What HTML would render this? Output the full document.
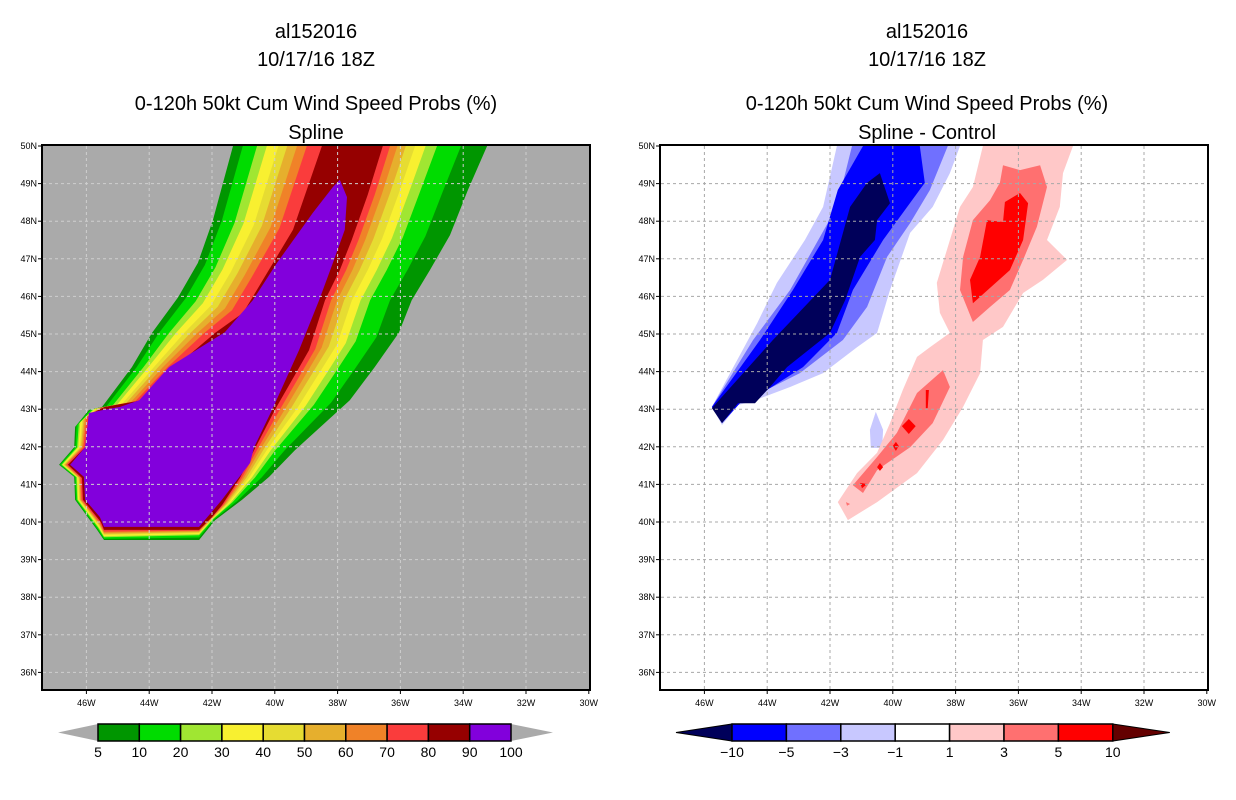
<!DOCTYPE html>
<html><head><meta charset="utf-8">
<style>
html,body{margin:0;padding:0;background:#fff;}
svg{display:block;font-family:"Liberation Sans",sans-serif;}
</style></head>
<body>
<svg id="chart" width="1236" height="800" viewBox="0 0 1236 800" xmlns="http://www.w3.org/2000/svg">
<defs>
<clipPath id="clipL"><rect x="42" y="145" width="548" height="545"/></clipPath>
<clipPath id="clipR"><rect x="660" y="145" width="548" height="545"/></clipPath>
</defs>
<g font-size="20" text-anchor="middle" fill="#000">
<text x="316" y="38">al152016</text>
<text x="316" y="66">10/17/16 18Z</text>
<text x="316" y="110">0-120h 50kt Cum Wind Speed Probs (%)</text>
<text x="316" y="139">Spline</text>
</g>
<g font-size="20" text-anchor="middle" fill="#000">
<text x="927" y="38">al152016</text>
<text x="927" y="66">10/17/16 18Z</text>
<text x="927" y="110">0-120h 50kt Cum Wind Speed Probs (%)</text>
<text x="927" y="139">Spline - Control</text>
</g>
<rect x="42" y="145" width="548" height="545" fill="#aaaaaa"/>
<g id="leftFill" clip-path="url(#clipL)"></g>
<g id="rightFill" clip-path="url(#clipR)"></g>
<g id="grids"></g>
<rect x="42" y="145" width="548" height="545" fill="none" stroke="#000" stroke-width="2"/>
<rect x="660" y="145" width="548" height="545" fill="none" stroke="#000" stroke-width="2"/>
<g id="axes" font-size="9" fill="#000"></g>
<g id="legends"></g>
</svg>
<script>
// ---- axis data ----
const lonTicks = [46,44,42,40,38,36,34,32,30];
const latTicks = [50,49,48,47,46,45,44,43,42,41,40,39,38,37,36];
// probability levels (left) and difference levels (right)
const probLevels = [5,10,20,30,40,50,60,70,80,90,100];
const probColors = ["#009600","#00dc00","#a0e632","#f8f030","#e6dc32","#e6af2d","#f08228","#fa3c3c","#960000","#8200dc"];
const diffLabels = ["-10","-5","-3","-1","1","3","5","10"];
const diffColors = ["#00005a","#0000ff","#7070ff","#c8c8ff","#ffffff","#ffc8c8","#ff7070","#ff0000","#640000"];
// contour fractions between 5% edge and 80% edge (left side / right side of swath)
const bandFracLeft = [0.11,0.27,0.38,0.51,0.61,0.72,0.83];
const bandFracRight = [0.25,0.48,0.59,0.69,0.78,0.86,0.93];
// contour outlines [lonW, latN]
const edge5 = [[41.33,50.00],[41.97,48.03],[42.45,46.89],[43.08,45.98],[43.91,45.03],[44.55,44.12],[45.50,43.06],[45.92,42.98],[46.36,42.53],[46.39,41.99],[46.87,41.52],[46.39,41.20],[46.36,40.59],[45.66,39.79],[45.44,39.52],[42.41,39.52],[41.90,40.05],[41.04,40.59],[40.18,41.20],[39.36,41.91],[37.61,43.24],[36.82,44.12],[36.05,45.03],[35.64,45.90],[35.06,46.70],[34.42,47.63],[33.85,48.83],[33.24,50.00]];
const edge80 = [[38.50,50.00],[39.42,47.77],[40.38,46.44],[41.01,45.56],[41.90,45.03],[43.18,44.12],[44.23,43.24],[45.41,43.06],[45.92,42.85],[46.04,41.99],[46.59,41.52],[46.14,41.17],[46.11,40.59],[45.54,40.00],[45.44,39.79],[42.41,39.79],[42.00,40.13],[41.68,40.45],[41.11,41.17],[40.66,41.91],[40.00,42.98],[39.36,43.91],[38.91,44.57],[38.40,45.90],[37.93,46.70],[37.55,47.50],[37.04,48.70],[36.56,50.00]];
const edge90 = [[46.52,41.52],[46.08,41.20],[46.04,40.59],[45.57,40.13],[45.44,39.87],[42.41,39.87],[41.68,40.59],[40.79,41.57],[40.66,41.99],[40.09,42.98],[39.23,44.57],[38.59,45.90],[38.15,46.89],[37.77,47.77],[37.70,48.64],[37.93,49.10],[38.15,48.91],[38.79,48.22],[39.93,46.89],[40.70,45.90],[41.59,45.05],[43.37,44.12],[44.32,43.24],[44.93,43.06],[45.47,42.98],[45.92,42.90],[46.04,41.99]];
const diffNeg1 = [[41.78,50.00],[42.22,48.38],[42.80,47.50],[43.69,46.36],[44.32,45.29],[45.18,43.96],[45.76,43.06],[45.44,42.58],[44.93,43.11],[44.39,43.24],[43.27,43.59],[42.22,43.96],[41.14,44.65],[40.50,45.03],[40.09,46.17],[39.45,47.69],[38.73,48.38],[38.18,49.28],[37.86,50.00]];
const diffNeg1Blob = [[40.54,42.93],[40.31,42.45],[40.34,41.97],[40.70,41.97],[40.73,42.45]];
const diffNeg3 = [[41.30,50.00],[41.78,48.38],[43.27,46.17],[44.45,44.84],[45.76,43.06],[45.44,42.63],[44.87,43.16],[42.96,43.96],[41.59,44.84],[40.82,45.72],[40.18,47.05],[39.45,47.95],[38.82,48.83],[38.25,50.00]];
const diffNeg5 = [[40.95,50.00],[41.75,48.83],[42.22,47.50],[43.18,46.17],[44.23,44.84],[45.76,43.06],[45.44,42.63],[44.87,43.16],[43.91,43.56],[42.86,44.12],[41.78,45.03],[41.27,46.17],[40.31,47.50],[38.98,49.02],[39.14,50.00]];
const diffNeg10 = [[40.41,49.28],[40.09,48.48],[40.50,48.03],[40.57,47.50],[41.04,47.05],[41.52,45.90],[42.00,45.03],[43.37,44.12],[43.91,43.59],[44.39,43.16],[44.93,43.16],[45.44,42.63],[45.76,43.03],[43.82,44.84],[42.00,46.44],[41.36,48.38],[40.82,49.02]];
const diffPos1 = [[37.13,50.00],[37.45,48.91],[37.86,48.38],[38.28,47.23],[38.60,46.36],[38.50,45.56],[38.18,45.03],[38.82,44.65],[39.23,44.39],[39.68,43.51],[40.09,42.63],[40.50,41.84],[41.14,41.30],[41.75,40.53],[41.43,40.05],[40.50,40.53],[39.23,41.30],[38.40,42.18],[37.76,43.06],[37.22,43.96],[37.13,44.84],[36.49,45.19],[35.85,46.09],[35.22,46.44],[34.45,46.97],[35.09,47.50],[34.68,48.38],[34.58,49.28],[34.26,50.00]];
const diffPos3a = [[36.49,49.49],[35.95,49.36],[35.31,49.49],[35.09,48.91],[35.41,47.85],[35.85,46.97],[36.27,46.17],[36.90,45.72],[37.45,45.32],[37.86,46.17],[37.76,47.05],[37.45,48.03],[36.90,48.56],[36.59,49.02]];
const diffPos3b = [[38.40,44.04],[38.18,43.59],[38.73,42.63],[39.45,41.99],[40.50,41.38],[40.95,40.77],[41.27,40.98],[40.50,41.73],[39.87,42.37],[39.23,43.43]];
const diffPos3c = [[41.49,40.53],[41.36,40.48],[41.46,40.43]];
const diffPos5a = [[36.43,48.51],[35.95,48.75],[35.69,48.48],[35.85,47.50],[36.27,46.70],[37.45,45.82],[37.54,46.44],[37.22,47.05],[37.00,48.03],[36.49,47.98]];
const diffPos5b = [[39.49,42.74],[39.27,42.55],[39.49,42.34],[39.71,42.55]];
const diffPos5c = [[39.90,42.13],[39.81,42.02],[39.90,41.89],[40.00,42.02]];
const diffPos5d = [[40.41,41.57],[40.31,41.46],[40.41,41.36],[40.50,41.46]];
const diffPos5e = [[41.04,41.04],[40.82,41.01],[40.98,40.90]];
const diffPos5f = [[38.95,43.51],[38.85,43.51],[38.89,43.03],[38.95,43.03]];

// ---- axis functions ----
const NS = "http://www.w3.org/2000/svg";
function xL(lon){ return 86.4 + (46 - lon) * 31.4; }
function xR(lon){ return 704.4 + (46 - lon) * 31.4; }
function yY(lat){ return 146 + (50 - lat) * 37.6; }
function mk(tag, attrs, parent){ const e = document.createElementNS(NS, tag); for (const k in attrs) e.setAttribute(k, attrs[k]); parent.appendChild(e); return e; }
function ptsStr(arr, xf){ return arr.map(p => xf(p[0]).toFixed(1) + "," + yY(p[1]).toFixed(1)).join(" "); }

// ---- left panel ----
const lf = document.getElementById("leftFill");
function bandPoly(f, idx){
  return edge5.map((p, i) => {
    const q = edge80[i];
    const t = i <= 14 ? bandFracLeft[idx] : bandFracRight[idx];
    return [p[0] + (q[0] - p[0]) * t, p[1] + (q[1] - p[1]) * t];
  });
}
let e0 = mk("polygon", {points: ptsStr(edge5, xL), fill: probColors[0]}, lf);


for (let k = 0; k < bandFracLeft.length; k++) {
  const e = mk("polygon", {points: ptsStr(bandPoly(edge5, k), xL), fill: probColors[k + 1]}, lf);
  
  
}
let e8 = mk("polygon", {points: ptsStr(edge80, xL), fill: probColors[8]}, lf);


let e9 = mk("polygon", {points: ptsStr(edge90, xL), fill: probColors[9]}, lf);



// ---- right panel ----
const rf = document.getElementById("rightFill");
const rightLayers = [
  [diffNeg1, diffColors[3], 'diff-neg1-to-neg3'], [diffNeg1Blob, diffColors[3], 'diff-neg1-blob'],
  [diffNeg3, diffColors[2], 'diff-neg3-to-neg5'], [diffNeg5, diffColors[1], 'diff-neg5-to-neg10'],
  [diffNeg10, diffColors[0], 'diff-below-neg10'],
  [diffPos1, diffColors[5], 'diff-1-to-3'], [diffPos3a, diffColors[6], 'diff-3-to-5-north'],
  [diffPos3b, diffColors[6], 'diff-3-to-5-south'], [diffPos3c, diffColors[6], 'diff-3-to-5-dot'],
  [diffPos5a, diffColors[7], 'diff-5-to-10-north'], [diffPos5b, diffColors[7], 'diff-5-to-10-spot-a'],
  [diffPos5c, diffColors[7], 'diff-5-to-10-spot-b'], [diffPos5d, diffColors[7], 'diff-5-to-10-spot-c'],
  [diffPos5e, diffColors[7], 'diff-5-to-10-spot-d'], [diffPos5f, diffColors[7], 'diff-5-to-10-spot-e']
];
rightLayers.forEach(L => {
  const e = mk("polygon", {points: ptsStr(L[0], xR), fill: L[1]}, rf);
  
  
});

// ---- grids & axes ----
const g = document.getElementById("grids");
const ax = document.getElementById("axes");
[[xL, 42, "left", "#cfcfcf"], [xR, 660, "right", "#a8a8a8"]].forEach(P => {
  const xf = P[0], x0 = P[1], side = P[2];
  lonTicks.forEach(lon => {
    const x = xf(lon);
    if (lon > 30) {
      const l = mk("line", {x1: x, y1: 146, x2: x, y2: 689, stroke: P[3], "stroke-width": 1, "stroke-dasharray": "3,3"}, g);
      
      
    }
    mk("line", {x1: x, y1: 690, x2: x, y2: 694, stroke: "#000", "stroke-width": 1}, ax);
    const t = mk("text", {x: x, y: 706, "text-anchor": "middle"}, ax);
    t.textContent = lon + "W";
    
    
  });
  latTicks.forEach(lat => {
    const y = yY(lat);
    if (lat < 50) {
      const l = mk("line", {x1: x0 + 1, y1: y, x2: x0 + 547, y2: y, stroke: P[3], "stroke-width": 1, "stroke-dasharray": "3,3"}, g);
      
      
    }
    mk("line", {x1: x0 - 4, y1: y, x2: x0, y2: y, stroke: "#000", "stroke-width": 1}, ax);
    const t = mk("text", {x: x0 - 5, y: y + 3, "text-anchor": "end"}, ax);
    t.textContent = lat + "N";
    
    
  });
});

// ---- legends ----
const lg = document.getElementById("legends");
// left colorbar
const lbx0 = 98, lbw = 41.3, lby = 724, lbh = 17;
let tl = mk("polygon", {points: `58,${lby+lbh/2} ${lbx0},${lby} ${lbx0},${lby+lbh}`, fill: "#aaaaaa"}, lg);


const rEnd = lbx0 + lbw * probColors.length;
let tr = mk("polygon", {points: `${rEnd},${lby} ${rEnd+42},${lby+lbh/2} ${rEnd},${lby+lbh}`, fill: "#aaaaaa"}, lg);


probColors.forEach((c, i) => {
  const r = mk("rect", {x: lbx0 + i * lbw, y: lby, width: lbw, height: lbh, fill: c, stroke: "#000", "stroke-width": 1.5}, lg);
  
  
});
probLevels.forEach((v, i) => {
  const t = mk("text", {x: lbx0 + i * lbw, y: 757, "text-anchor": "middle", "font-size": 14}, lg);
  t.textContent = v;
  
  
});
// right colorbar
const rbx0 = 732, rbw = 54.4;
let rl = mk("polygon", {points: `676,${lby+lbh/2} ${rbx0},${lby} ${rbx0},${lby+lbh}`, fill: diffColors[0], stroke: "#000"}, lg);


const rbEnd = rbx0 + rbw * 7;
let rr = mk("polygon", {points: `${rbEnd},${lby} ${rbEnd+57},${lby+lbh/2} ${rbEnd},${lby+lbh}`, fill: diffColors[8], stroke: "#000"}, lg);


diffColors.slice(1, 8).forEach((c, i) => {
  const r = mk("rect", {x: rbx0 + i * rbw, y: lby, width: rbw, height: lbh, fill: c, stroke: "#000", "stroke-width": 1.5}, lg);
  
  
});
diffLabels.forEach((v, i) => {
  const t = mk("text", {x: rbx0 + i * rbw, y: 757, "text-anchor": "middle", "font-size": 14}, lg);
  t.textContent = v.replace("-", "\u2212");
  
  
});
</script>
</body></html>
